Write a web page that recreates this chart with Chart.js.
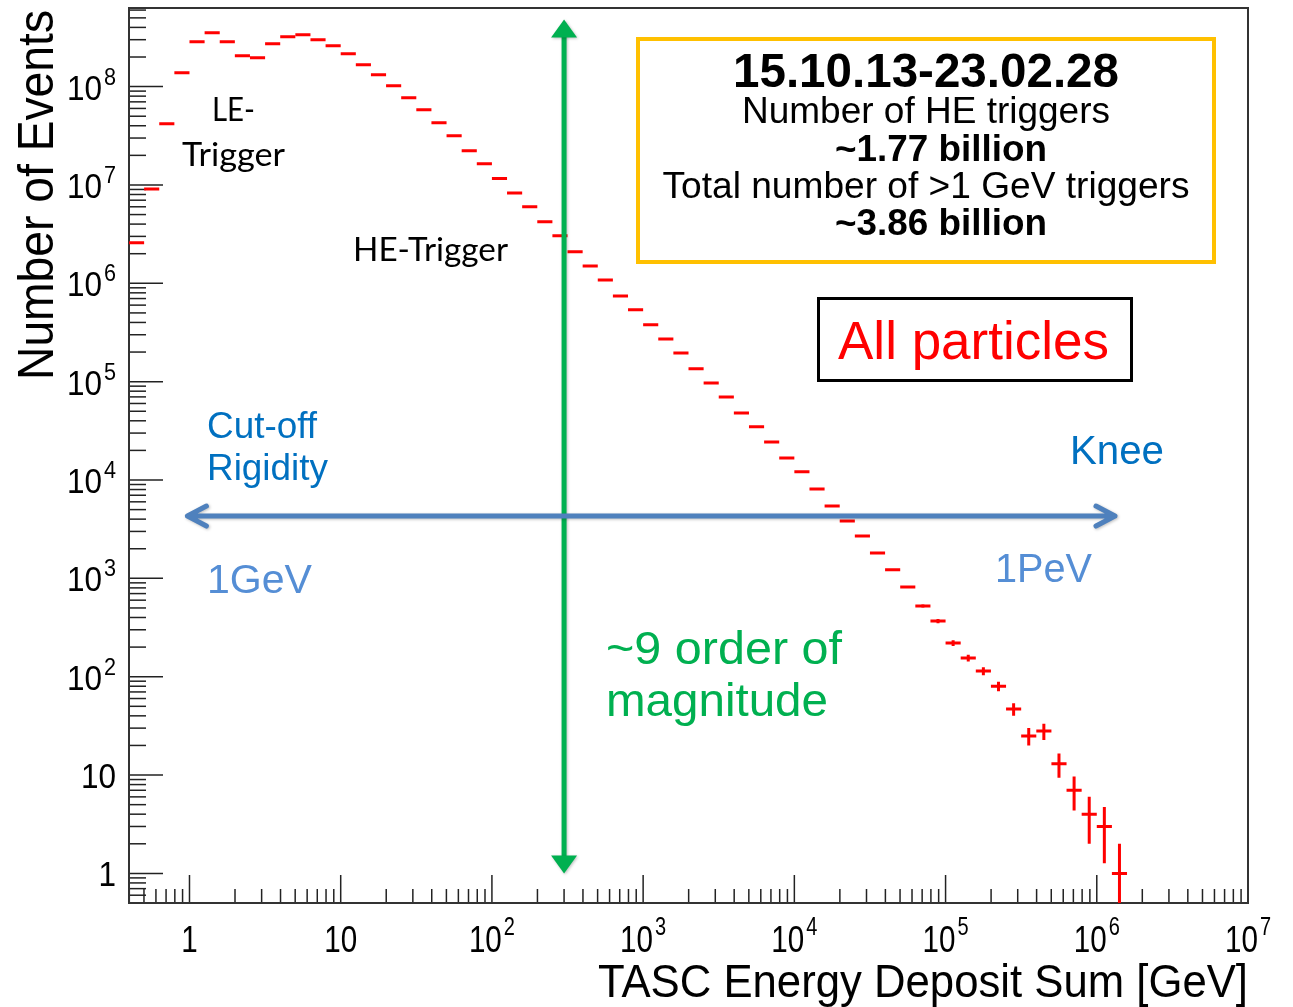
<!DOCTYPE html>
<html>
<head>
<meta charset="utf-8">
<script src="https://cdn.jsdelivr.net/npm/chart.js@4.4.1/dist/chart.umd.min.js"></script>
<style>
  html, body { margin: 0; padding: 0; background: #fff; }
  #wrap { position: relative; width: 1293px; height: 1007px; }
</style>
</head>
<body>
<div id="wrap"><canvas id="chart"></canvas></div>
<script>
// TASC energy deposit histogram, all particles

// log10 of the bin edges [GeV], 0.1 decade per bin
const binLogEdges = [
  -0.4, -0.3, -0.2, -0.1, 0.0, 0.1, 0.2, 0.3, 0.4, 0.5, 0.6, 0.7, 0.8, 0.9,
  1.0, 1.1, 1.2, 1.3, 1.4, 1.5, 1.6, 1.7, 1.8, 1.9, 2.0, 2.1, 2.2, 2.3, 2.4,
  2.5, 2.6, 2.7, 2.8, 2.9, 3.0, 3.1, 3.2, 3.3, 3.4, 3.5, 3.6, 3.7, 3.8, 3.9,
  4.0, 4.1, 4.2, 4.3, 4.4, 4.5, 4.6, 4.7, 4.8, 4.9, 5.0, 5.1, 5.2, 5.3, 5.4,
  5.5, 5.6, 5.7, 5.8, 5.9, 6.0, 6.1, 6.2
];

// events per bin
const eventCounts = [
  2.58e6, 9.1e6, 4.19e7, 1.38e8, 2.86e8, 3.53e8, 2.86e8, 2.06e8, 1.97e8, 2.73e8,
  3.22e8, 3.37e8, 3.0e8, 2.61e8, 2.16e8, 1.67e8, 1.32e8, 1.02e8, 7.7e7, 5.82e7,
  4.29e7, 3.16e7, 2.23e7, 1.64e7, 1.16e7, 8.3e6, 6.0e6, 4.22e6, 3.04e6, 2.09e6,
  1.50e6, 1.08e6, 7.45e5, 5.37e5, 3.78e5, 2.72e5, 1.96e5, 1.35e5, 9.7e4, 7.0e4,
  4.81e4, 3.47e4, 2.44e4, 1.67e4, 1.21e4, 8100, 5450, 3840, 2700, 1810,
  1220, 817, 524, 368, 220, 155, 114, 80, 47, 25,
  28, 13, 7, 4, 3, 1
];

// axis ticks
const xTickValues = [1, 10, 1e2, 1e3, 1e4, 1e5, 1e6, 1e7];
const xTickBase = ['1', '10', '10', '10', '10', '10', '10', '10'];
const xTickExp = ['', '', '2', '3', '4', '5', '6', '7'];
const yTickValues = [1, 10, 1e2, 1e3, 1e4, 1e5, 1e6, 1e7, 1e8];
const yTickBase = ['1', '10', '10', '10', '10', '10', '10', '10', '10'];
const yTickExp = ['', '', '2', '3', '4', '5', '6', '7', '8'];

const X_MIN = Math.pow(10, -0.4), X_MAX = 1e7;
const Y_MIN = 0.5, Y_MAX = 6.3e8;

const ROOT_FONT = '"Liberation Sans", Arial, Helvetica, sans-serif';
const CALIBRI_LIKE = 'Lato, "Open Sans", sans-serif';

const points = eventCounts.map((n, i) => ({
  x: Math.pow(10, (binLogEdges[i] + binLogEdges[i + 1]) / 2),
  y: n
}));

function drawText(ctx, str, x, y, o) {
  ctx.save();
  ctx.font = `${o.weight || 'normal'} ${o.size}px ${o.family || ROOT_FONT}`;
  ctx.fillStyle = o.color || '#000';
  ctx.textBaseline = 'alphabetic';
  const w = ctx.measureText(str).width;
  const sx = o.width ? o.width / w : (o.sx || 1);
  ctx.translate(x, y);
  if (o.rotate) ctx.rotate(o.rotate);
  ctx.scale(sx, 1);
  let dx = 0;
  if (o.align === 'center') dx = -w / 2;
  else if (o.align === 'right') dx = -w;
  ctx.fillText(str, dx, 0);
  ctx.restore();
  return w * sx;
}

// label like 10^n : base + raised exponent, returns total width
function powerLabel(ctx, base, exp, x, y, o) {
  ctx.save();
  ctx.font = `${o.size}px ${ROOT_FONT}`;
  const wb = ctx.measureText(base).width * o.sx;
  ctx.font = `${o.expSize}px ${ROOT_FONT}`;
  const we = exp ? ctx.measureText(exp).width * o.sx + 2 : 0;
  ctx.restore();
  const total = wb + we;
  let left = x;
  if (o.align === 'center') left = x - total / 2;
  else if (o.align === 'right') left = x - total;
  drawText(ctx, base, left, y, { size: o.size, sx: o.sx, color: '#000' });
  if (exp) drawText(ctx, exp, left + wb + 2, y - o.expRaise, { size: o.expSize, sx: o.sx, color: '#000' });
}

const rootAxes = {
  id: 'rootAxes',
  beforeDatasetsDraw(chart) {
    const { ctx, chartArea: a, scales } = chart;
    const xs = scales.x, ys = scales.y;
    ctx.save();
    ctx.strokeStyle = '#222';
    ctx.lineWidth = 1.5;
    // x ticks, pointing up from the bottom axis
    for (let d = -1; d <= 7; d++) {
      for (let m = 1; m <= 9; m++) {
        const v = m * Math.pow(10, d);
        if (v < X_MIN * 1.001 || v > X_MAX * 1.001) continue;
        const px = xs.getPixelForValue(v);
        const len = m === 1 ? 28 : 14;
        ctx.beginPath();
        ctx.moveTo(px, a.bottom);
        ctx.lineTo(px, a.bottom - len);
        ctx.stroke();
      }
    }
    // y ticks, pointing right from the left axis
    for (let d = -1; d <= 8; d++) {
      for (let m = 1; m <= 9; m++) {
        const v = m * Math.pow(10, d);
        if (v < Y_MIN * 1.001 || v > Y_MAX) continue;
        const py = ys.getPixelForValue(v);
        const len = m === 1 ? 34 : 17;
        ctx.beginPath();
        ctx.moveTo(a.left, py);
        ctx.lineTo(a.left + len, py);
        ctx.stroke();
      }
    }
    ctx.strokeStyle = '#333';
    ctx.lineWidth = 2;
    ctx.strokeRect(a.left, a.top, a.right - a.left, a.bottom - a.top);
    ctx.restore();

    // tick labels
    xTickValues.forEach((v, i) => {
      powerLabel(ctx, xTickBase[i], xTickExp[i], xs.getPixelForValue(v), 952,
        { size: 37, sx: 0.8, expSize: 25, expRaise: 17, align: 'center' });
    });
    yTickValues.forEach((v, i) => {
      powerLabel(ctx, yTickBase[i], yTickExp[i], 116, ys.getPixelForValue(v) + 13,
        { size: 35, sx: 0.9, expSize: 24, expRaise: 15, align: 'right' });
    });

    // axis titles
    drawText(ctx, 'TASC Energy Deposit Sum [GeV]', 1248, 997,
      { size: 47, width: 650, align: 'right' });
    drawText(ctx, 'Number of Events', 53, 10,
      { size: 50, width: 370, align: 'right', rotate: -Math.PI / 2 });
  },
  afterDatasetsDraw(chart) {
    const { ctx, chartArea: a, scales } = chart;
    const xs = scales.x, ys = scales.y;
    ctx.save();
    ctx.beginPath();
    ctx.rect(a.left, a.top, a.right - a.left, a.bottom - a.top);
    ctx.clip();
    ctx.strokeStyle = '#ff0000';
    ctx.lineWidth = 3;
    eventCounts.forEach((n, i) => {
      const x0 = xs.getPixelForValue(Math.pow(10, binLogEdges[i]));
      const x1 = xs.getPixelForValue(Math.pow(10, binLogEdges[i + 1]));
      const xc = xs.getPixelForValue(points[i].x);
      const py = ys.getPixelForValue(n);
      const err = Math.sqrt(n);
      const yHi = ys.getPixelForValue(n + err);
      const yLo = n - err > 0 ? ys.getPixelForValue(n - err) : a.bottom + 5;
      ctx.beginPath();
      ctx.moveTo(x0, py);
      ctx.lineTo(x1, py);
      ctx.moveTo(xc, yHi);
      ctx.lineTo(xc, yLo);
      ctx.stroke();
    });
    ctx.restore();
  },
  afterDraw(chart) {
    const { ctx, scales } = chart;
    const xs = scales.x, ys = scales.y;

    // green arrow: ~9 orders of magnitude at 300 GeV
    const gx = xs.getPixelForValue(300);
    const gTop = ys.getPixelForValue(4.8e8), gBot = ys.getPixelForValue(1);
    ctx.save();
    ctx.shadowColor = 'rgba(0,0,0,0.25)';
    ctx.shadowBlur = 3;
    ctx.shadowOffsetX = 1;
    ctx.shadowOffsetY = 1;
    ctx.strokeStyle = '#00b050';
    ctx.fillStyle = '#00b050';
    ctx.lineWidth = 5;
    ctx.beginPath();
    ctx.moveTo(gx, gTop + 12);
    ctx.lineTo(gx, gBot - 12);
    ctx.stroke();
    ctx.beginPath();
    ctx.moveTo(gx, gTop);
    ctx.lineTo(gx - 13, gTop + 18);
    ctx.lineTo(gx + 13, gTop + 18);
    ctx.closePath();
    ctx.fill();
    ctx.beginPath();
    ctx.moveTo(gx, gBot);
    ctx.lineTo(gx - 13, gBot - 18);
    ctx.lineTo(gx + 13, gBot - 18);
    ctx.closePath();
    ctx.fill();

    // blue arrow: 1 GeV .. 1 PeV
    const by = ys.getPixelForValue(4.3e3);
    const bl = xs.getPixelForValue(0.94), br = xs.getPixelForValue(1.36e6);
    ctx.strokeStyle = '#4f81bd';
    ctx.lineWidth = 5;
    ctx.lineCap = 'round';
    ctx.lineJoin = 'round';
    ctx.beginPath();
    ctx.moveTo(bl + 2, by);
    ctx.lineTo(br - 2, by);
    ctx.moveTo(bl + 21, by - 10);
    ctx.lineTo(bl + 2, by);
    ctx.lineTo(bl + 21, by + 10);
    ctx.moveTo(br - 21, by - 10);
    ctx.lineTo(br - 2, by);
    ctx.lineTo(br - 21, by + 10);
    ctx.stroke();
    ctx.restore();

    // boxes
    ctx.save();
    ctx.strokeStyle = '#ffc000';
    ctx.lineWidth = 4;
    ctx.strokeRect(638, 39, 576, 223);
    ctx.strokeStyle = '#000';
    ctx.lineWidth = 3;
    ctx.strokeRect(818.5, 298.5, 313, 82);
    ctx.restore();

    drawText(ctx, '15.10.13-23.02.28', 926, 87, { size: 48, weight: 'bold', width: 386, align: 'center' });
    drawText(ctx, 'Number of HE triggers', 926, 123, { size: 37, width: 368, align: 'center' });
    drawText(ctx, '~1.77 billion', 941, 161, { size: 37, weight: 'bold', width: 212, align: 'center' });
    drawText(ctx, 'Total number of >1 GeV triggers', 926, 198, { size: 37, width: 527, align: 'center' });
    drawText(ctx, '~3.86 billion', 941, 235, { size: 37, weight: 'bold', width: 212, align: 'center' });
    drawText(ctx, 'All particles', 973.5, 359, { size: 53, color: '#ff0000', width: 271, align: 'center' });

    drawText(ctx, 'LE-', 233.5, 121, { size: 32, family: CALIBRI_LIKE, width: 43, align: 'center' });
    drawText(ctx, 'Trigger', 233.5, 166, { size: 32, family: CALIBRI_LIKE, width: 103, align: 'center' });
    drawText(ctx, 'HE-Trigger', 430.5, 261, { size: 32, family: CALIBRI_LIKE, width: 155, align: 'center' });

    drawText(ctx, 'Cut-off', 207, 438, { size: 36, color: '#0070c0', width: 110 });
    drawText(ctx, 'Rigidity', 207, 480, { size: 36, color: '#0070c0', width: 121 });
    drawText(ctx, 'Knee', 1070, 464, { size: 40, color: '#0070c0', width: 94 });
    drawText(ctx, '1GeV', 207, 593, { size: 41, color: '#558ed5', width: 105 });
    drawText(ctx, '1PeV', 995, 582, { size: 40, color: '#558ed5', width: 97 });
    drawText(ctx, '~9 order of', 606, 664, { size: 47, color: '#00b050', width: 236 });
    drawText(ctx, 'magnitude', 606, 716, { size: 47, color: '#00b050', width: 222 });
  }
};

new Chart(document.getElementById('chart'), {
  type: 'scatter',
  data: {
    datasets: [{
      label: 'All particles',
      data: points,
      pointRadius: 0,
      showLine: false,
      borderColor: '#ff0000',
      backgroundColor: '#ff0000'
    }]
  },
  options: {
    responsive: true,
    maintainAspectRatio: false,
    animation: false,
    layout: { padding: { left: 129, top: 8, right: 45, bottom: 104 } },
    plugins: { legend: { display: false }, tooltip: { enabled: false } },
    scales: {
      x: { type: 'logarithmic', min: X_MIN, max: X_MAX, display: false },
      y: { type: 'logarithmic', min: Y_MIN, max: Y_MAX, display: false }
    }
  },
  plugins: [rootAxes]
});
</script>
</body>
</html>
